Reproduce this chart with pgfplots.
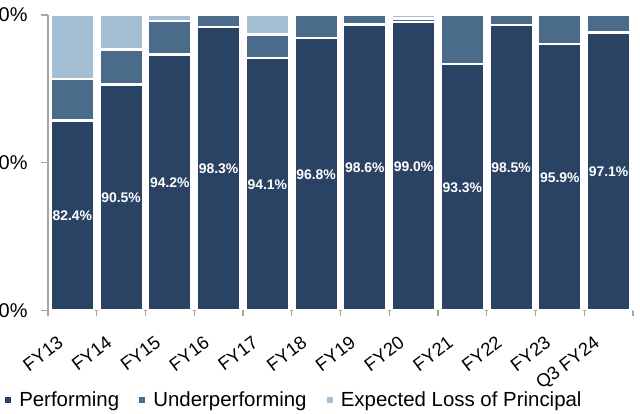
\documentclass[border=0pt]{standalone}
\usepackage{pgfplots}
\pgfplotsset{compat=1.18}
\usepackage{fontspec}
\setmainfont{Liberation Sans}
\definecolor{perf}{RGB}{42,67,101}
\definecolor{under}{RGB}{74,107,137}
\definecolor{lossc}{RGB}{164,190,211}
\definecolor{axgray}{RGB}{166,166,166}
\begin{document}
\begin{tikzpicture}
\begin{axis}[
  name=ax,
  scale only axis,
  width=585bp, height=295.5bp,
  ybar stacked,
  bar width=43.5bp,
  xmin=-0.5, xmax=11.5,
  ymin=0, ymax=100,
  axis lines*=left,
  axis line style={axgray, line width=1.2bp},
  tick align=outside,
  xtick={0,...,11},
  xticklabels={FY13,FY14,FY15,FY16,FY17,FY18,FY19,FY20,FY21,FY22,FY23,Q3 FY24},
  minor xtick={-0.5,0.5,...,11.5},
  major x tick style={draw=none},
  minor x tick style={axgray, line width=1.2bp},
  minor tick length=5bp,
  ytick={0,50,100},
  yticklabels={0\%,50\%,100\%},
  y tick style={axgray, line width=1.2bp},
  major tick length=7bp,
  xticklabel style={font=\fontsize{18.5}{20}\selectfont, rotate=37, anchor=north east, inner sep=0pt, yshift=-4.5bp, xshift=-23bp},
  yticklabel style={font=\fontsize{20}{22}\selectfont, xshift=-10bp},
  every axis plot/.append style={draw=white, line width=2.5bp},
  legend columns=3,
  legend style={draw=none, fill=none, at={(axis description cs:-0.0735,-0.303)}, anchor=west,
    font=\fontsize{20.5}{22}\selectfont, inner sep=0pt, outer sep=0pt,
    nodes={inner sep=0pt},
    /tikz/every even column/.append style={column sep=20bp}},
  legend image code/.code={\fill[#1, draw=none] (0bp,-3bp) rectangle (6bp,3bp); \path (13bp,0bp);},
  clip=false,
]
\addplot[fill=perf,
  nodes near coords,
  point meta=explicit symbolic,
  every node near coord/.append style={text=white, font=\fontsize{14}{16}\selectfont\bfseries, inner sep=0pt, anchor=center},
  ] coordinates {(0,64.3) [82.4\%] (1,76.5) [90.5\%] (2,86.7) [94.2\%] (3,95.9) [98.3\%] (4,85.4) [94.1\%] (5,92.2) [96.8\%] (6,96.7) [98.6\%] (7,97.6) [99.0\%] (8,83.4) [93.3\%] (9,96.6) [98.5\%] (10,90.2) [95.9\%] (11,94.1) [97.1\%]};
\addplot[fill=under] coordinates {(0,14.1) (1,11.8) (2,11.2) (3,4.1) (4,8.0) (5,7.8) (6,3.3) (7,1.2) (8,16.6) (9,3.4) (10,9.8) (11,5.9)};
\addplot[fill=lossc] coordinates {(0,21.6) (1,11.7) (2,2.1) (3,0) (4,6.6) (5,0) (6,0) (7,1.2) (8,0) (9,0) (10,0) (11,0)};
\legend{Performing, Underperforming, Expected Loss of Principal}
\end{axis}
\pgfresetboundingbox
\path[use as bounding box] ([shift={(-48bp,-103.5bp)}]ax.south west) rectangle ([shift={(7bp,15bp)}]ax.north east);
\end{tikzpicture}
\end{document}
